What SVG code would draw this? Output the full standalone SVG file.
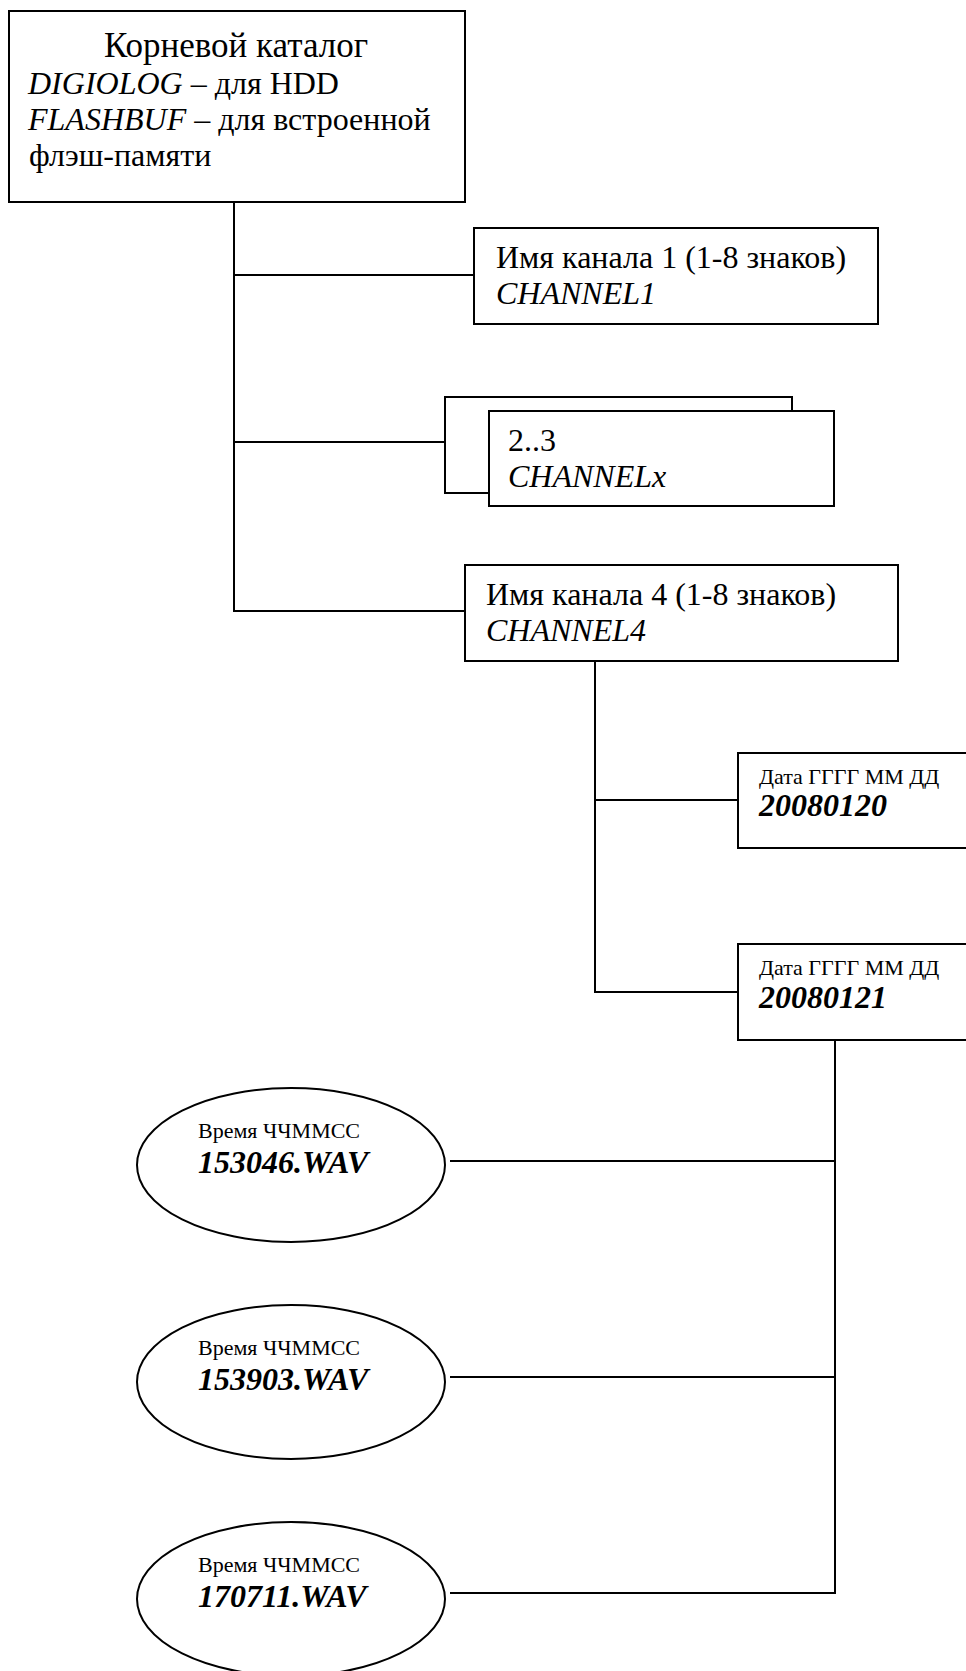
<svg xmlns="http://www.w3.org/2000/svg" width="966" height="1671" viewBox="0 0 966 1671">
  <style>
    .box { fill: #ffffff; stroke: #000000; stroke-width: 2; }
    .ell { fill: #ffffff; stroke: #000000; stroke-width: 2; }
    .ln { fill: none; stroke: #000000; stroke-width: 2; }
    text { font-family: "Liberation Serif", "Times New Roman", serif; fill: #000000; }
    .t16 { font-size: 35px; }
    .t14 { font-size: 32px; }
    .t10 { font-size: 22px; }
    .it { font-style: italic; }
    .bi { font-style: italic; font-weight: bold; }
  </style>
  <rect width="966" height="1671" fill="#ffffff"/>

  <g id="connectors">
    <polyline class="ln" points="234,202 234,611 465,611"/>
    <line class="ln" x1="234" y1="275" x2="474" y2="275"/>
    <line class="ln" x1="234" y1="442" x2="450" y2="442"/>
    <polyline class="ln" points="595,661 595,992 738,992"/>
    <line class="ln" x1="595" y1="800" x2="738" y2="800"/>
    <polyline class="ln" points="835,1040 835,1593 450,1593"/>
    <line class="ln" x1="450" y1="1161" x2="835" y2="1161"/>
    <line class="ln" x1="450" y1="1377" x2="835" y2="1377"/>
  </g>

  <g id="root">
    <rect class="box" x="9" y="11" width="456" height="191"/>
    <text class="t16" x="236" y="57" text-anchor="middle">Корневой каталог</text>
    <text class="t14" x="28" y="94"><tspan class="it">DIGIOLOG</tspan> – для HDD</text>
    <text class="t14" x="28" y="130"><tspan class="it">FLASHBUF</tspan> – для встроенной</text>
    <text class="t14" x="29" y="166">флэш-памяти</text>
  </g>

  <g id="channel1">
    <rect class="box" x="474" y="228" width="404" height="96"/>
    <text class="t14" x="496" y="268">Имя канала 1 (1-8 знаков)</text>
    <text class="t14 it" x="496" y="304">CHANNEL1</text>
  </g>

  <g id="channel2-3">
    <rect class="box" x="445" y="397" width="347" height="96"/>
    <rect class="box" x="489" y="411" width="345" height="95"/>
    <text class="t14" x="508" y="451">2..3</text>
    <text class="t14 it" x="508" y="487">CHANNELx</text>
  </g>

  <g id="channel4">
    <rect class="box" x="465" y="565" width="433" height="96"/>
    <text class="t14" x="486" y="605">Имя канала 4 (1-8 знаков)</text>
    <text class="t14 it" x="486" y="641">CHANNEL4</text>
  </g>

  <g id="date1">
    <rect class="box" x="738" y="753" width="240" height="95"/>
    <text class="t10" x="759" y="784">Дата ГГГГ ММ ДД</text>
    <text class="t14 bi" x="759" y="816">20080120</text>
  </g>

  <g id="date2">
    <rect class="box" x="738" y="944" width="240" height="96"/>
    <text class="t10" x="759" y="975">Дата ГГГГ ММ ДД</text>
    <text class="t14 bi" x="759" y="1008">20080121</text>
  </g>

  <g id="file1">
    <ellipse class="ell" cx="291" cy="1165" rx="154" ry="77"/>
    <text class="t10" x="198" y="1138">Время ЧЧММСС</text>
    <text class="t14 bi" x="198" y="1173">153046.WAV</text>
  </g>

  <g id="file2">
    <ellipse class="ell" cx="291" cy="1382" rx="154" ry="77"/>
    <text class="t10" x="198" y="1355">Время ЧЧММСС</text>
    <text class="t14 bi" x="198" y="1390">153903.WAV</text>
  </g>

  <g id="file3">
    <ellipse class="ell" cx="291" cy="1599" rx="154" ry="77"/>
    <text class="t10" x="198" y="1572">Время ЧЧММСС</text>
    <text class="t14 bi" x="198" y="1607">170711.WAV</text>
  </g>
</svg>
